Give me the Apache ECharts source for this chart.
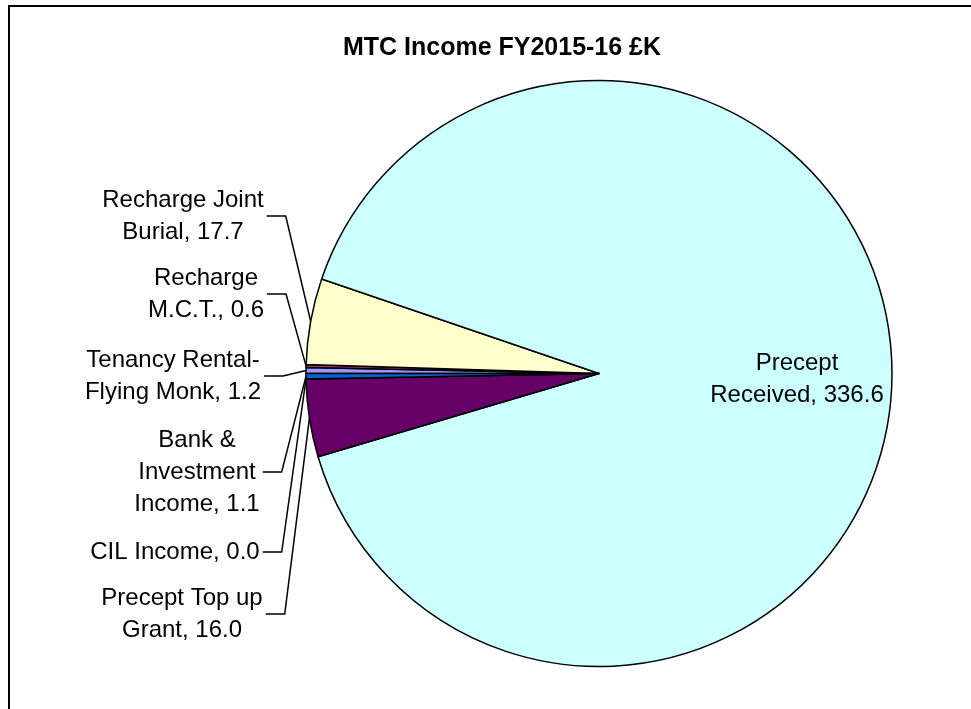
<!DOCTYPE html>
<html>
<head>
<meta charset="utf-8">
<script src="https://cdn.jsdelivr.net/npm/echarts@6/dist/echarts.min.js"></script>
<style>
html,body{margin:0;padding:0;background:#fff;}
#chart{width:971px;height:709px;}
</style>
</head>
<body>
<div id="chart"></div>
<script>
// Data (Excel series order, starting at 9 o'clock, clockwise)
const categories = [
  'Tenancy Rental-\nFlying Monk',
  'Recharge\nM.C.T.',
  'Recharge Joint\nBurial',
  'Precept\nReceived',
  'Precept Top up\nGrant',
  'CIL Income',
  'Bank &\nInvestment\nIncome'
];
const values = [1.2, 0.6, 17.7, 336.6, 16.0, 0.0, 1.1];
const colors = ['#9999FF', '#993366', '#FFFFCC', '#CCFFFF', '#660066', '#FF8080', '#0066CC'];

// Label placement (layout only)
const labelPos = [
  [173, 376],
  [206, 294],
  [183, 216],
  [797, 379],
  [182, 614],
  [175, 552],
  [197, 472]
];
const insideIndex = 3;

const chart = echarts.init(document.getElementById('chart'), null, {renderer: 'canvas'});
const FONT = "'Liberation Sans', Arial, sans-serif";

const option = {
  backgroundColor: '#ffffff',
  animation: false,
  title: {
    text: 'MTC Income FY2015-16 £K',
    left: 497,
    top: 31,
    textAlign: 'center',
    textStyle: {fontFamily: FONT, fontWeight: 'bold', fontSize: 25, color: '#000'}
  },
  graphic: [{
    type: 'rect',
    shape: {x: 9, y: 6, width: 1000, height: 800},
    style: {fill: 'none', stroke: '#000', lineWidth: 2},
    silent: true,
    z: 10
  }],
  series: [{
    type: 'pie',
    center: [599, 373.5],
    radius: 293,
    startAngle: 180,
    clockwise: true,
    avoidLabelOverlap: false,
    data: categories.map((c, i) => ({
      name: c,
      value: values[i],
      itemStyle: {color: colors[i]},
      labelLine: {show: i !== insideIndex}
    })),
    itemStyle: {borderColor: '#000', borderWidth: 1.5},
    label: {
      show: true,
      position: 'outside',
      fontFamily: FONT,
      fontSize: 24,
      lineHeight: 32,
      color: '#000',
      align: 'center',
      formatter: p => p.name + ', ' + p.value.toFixed(1)
    },
    labelLine: {show: true, lineStyle: {color: '#000', width: 1.5}, length: 10, length2: 10},
    labelLayout: function (params) {
      const i = params.dataIndex;
      const p = labelPos[i];
      const w = params.labelRect.width;
      const res = {x: p[0], y: p[1], align: 'center', verticalAlign: 'middle'};
      const pts = params.labelLinePoints;
      if (pts && i !== insideIndex) {
        const right = p[0] + w / 2 + 3;
        res.labelLinePoints = [pts[0], [right + 19, p[1]], [right, p[1]]];
      }
      return res;
    },
    emphasis: {disabled: true}
  }]
};
chart.setOption(option);
</script>
</body>
</html>
